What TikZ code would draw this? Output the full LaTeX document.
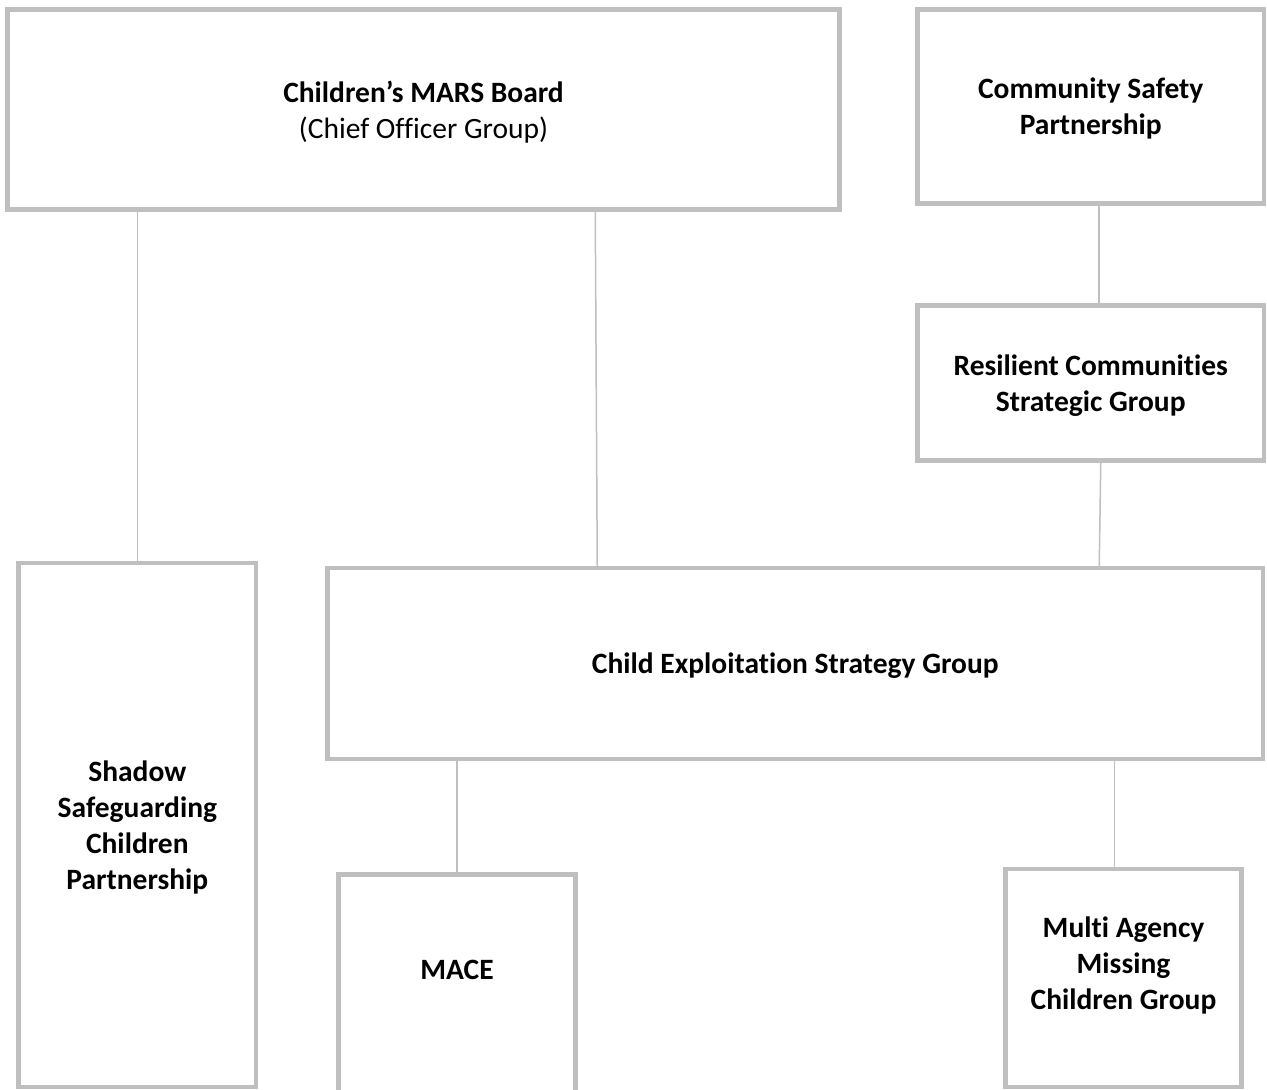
\documentclass[tikz,border=0pt]{standalone}
\usepackage{fontspec}
\setmainfont{Carlito}[Ligatures=NoCommon]
\usetikzlibrary{positioning}
\usetikzlibrary{calc}
\definecolor{boxgrey}{HTML}{BFBFBF}

\begin{document}
\begin{tikzpicture}[x=1pt,y=-1pt,align=center,font=\fontsize{29.5}{36}\selectfont,
		gnode/.style={rectangle,draw=boxgrey,fill=white,line width=4.5pt,inner sep=0pt,text depth=-6pt},
		glink/.style={draw=boxgrey,line width=1.5pt}]
		\useasboundingbox (0,0) rectangle (1267,1090);
		\clip (0,0) rectangle (1267,1090);
		\node[gnode,minimum width=832pt,minimum height=200pt] (mars) at (423.5,109.5){\textbf{Children’s MARS Board}\\(Chief Officer Group)};
		\node[gnode,minimum width=346.5pt,minimum height=194pt] (csp) at (1090.75,106.5){\textbf{Community Safety}\\\textbf{Partnership}};
		\node[gnode,minimum width=346.5pt,minimum height=155pt] (rcsg) at (1090.75,383){\textbf{Resilient Communities}\\\textbf{Strategic Group}};
		\node[gnode,minimum width=935.5pt,minimum height=191pt] (cesg) at (795.25,663.5){\textbf{Child Exploitation Strategy Group}};
		\node[gnode,minimum width=237.3pt,minimum height=524pt] (ssp) at (137.35,825){\textbf{Shadow}\\\textbf{Safeguarding}\\\textbf{Children}\\\textbf{Partnership}};
		\node[gnode,minimum width=237pt,minimum height=225.5pt,text depth=34pt] (mace) at (457,987.25){\textbf{MACE}};
		\node[gnode,minimum width=236pt,minimum height=218pt,text depth=30pt] (mamcg) at (1123.5,978){\textbf{Multi Agency}\\\textbf{Missing}\\\textbf{Children Group}};
		\coordinate (mtop) at ($(mamcg.north)+(-9,0)$);
		\draw[glink] (ssp.north |- mars.south) -- (ssp.north);
		\draw[glink] ($(mars.south west)+(590,0)$) -- ($(cesg.north west)+(272,0)$);
		\draw[glink] ($(csp.south)+(8,0)$) -- ($(rcsg.north)+(8,0)$);
		\draw[glink] ($(rcsg.south)+(10,0)$) -- ($(cesg.north west)+(774,0)$);
		\draw[glink] (mace.north |- cesg.south) -- (mace.north);
		\draw[glink] (mtop |- cesg.south) -- (mtop);
	\end{tikzpicture}
\end{document}
